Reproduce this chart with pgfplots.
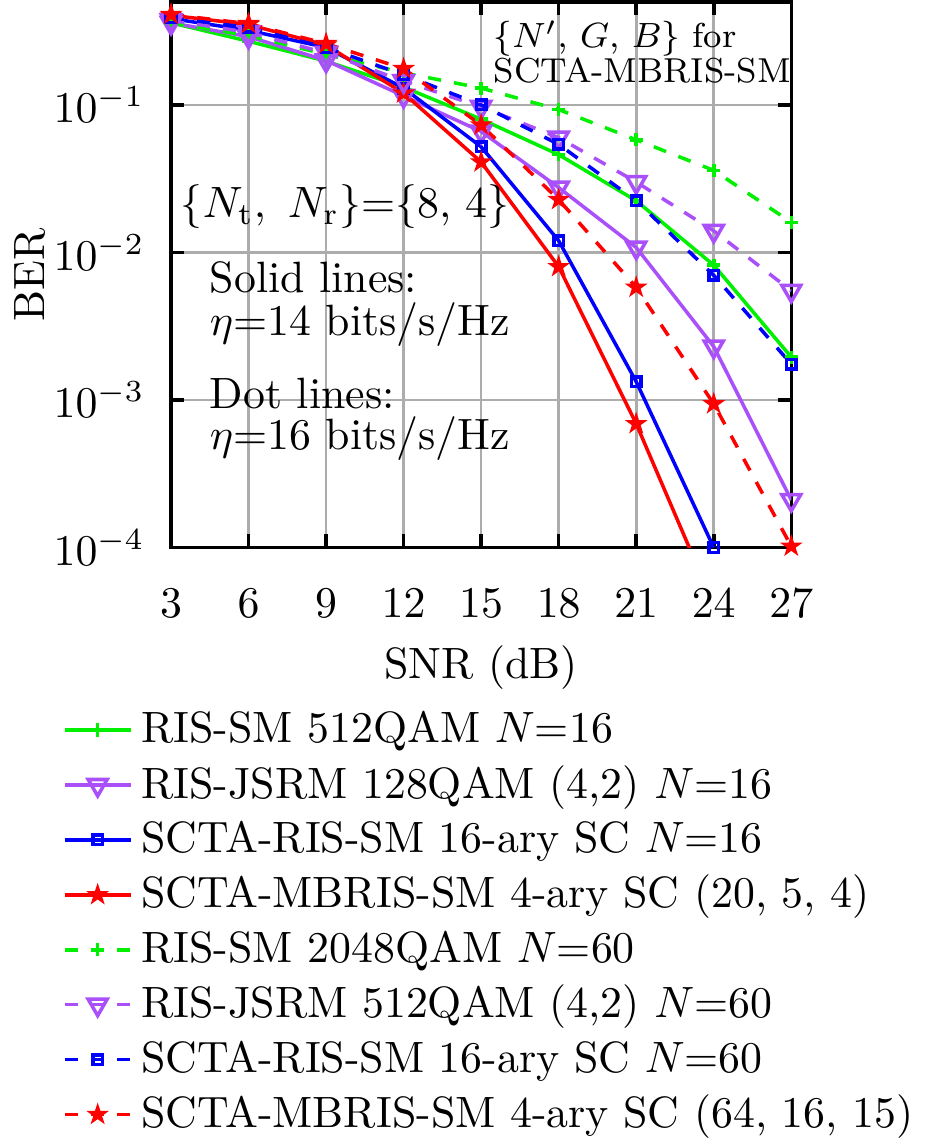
\documentclass[border=0pt]{standalone}
\usepackage{pgfplots}
\pgfplotsset{compat=1.18}
\definecolor{mygreen}{RGB}{0,240,0}
\definecolor{mypurple}{RGB}{170,80,250}
\definecolor{myblue}{RGB}{0,0,255}
\definecolor{myred}{RGB}{255,0,0}
\pgfdeclareplotmark{fstar}{%
  \pgfpathmoveto{\pgfpointpolar{90}{\pgfplotmarksize}}%
  \pgfpathlineto{\pgfpointpolar{126}{0.382\pgfplotmarksize}}%
  \pgfpathlineto{\pgfpointpolar{162}{\pgfplotmarksize}}%
  \pgfpathlineto{\pgfpointpolar{198}{0.382\pgfplotmarksize}}%
  \pgfpathlineto{\pgfpointpolar{234}{\pgfplotmarksize}}%
  \pgfpathlineto{\pgfpointpolar{270}{0.382\pgfplotmarksize}}%
  \pgfpathlineto{\pgfpointpolar{306}{\pgfplotmarksize}}%
  \pgfpathlineto{\pgfpointpolar{342}{0.382\pgfplotmarksize}}%
  \pgfpathlineto{\pgfpointpolar{18}{\pgfplotmarksize}}%
  \pgfpathlineto{\pgfpointpolar{54}{0.382\pgfplotmarksize}}%
  \pgfpathclose
  \pgfusepathqfillstroke}
\begin{document}
\begin{tikzpicture}
\begin{axis}[
  scale only axis,
  width=141.5pt, height=124.5pt,
  ymode=log,
  xmin=3, xmax=27, ymin=1e-4, ymax=0.5,
  xtick={3,6,...,27},
  ytick={1e-1,1e-2,1e-3,1e-4},
  tick align=inside,
  major tick length=3pt,
  minor tick length=1.8pt,
  tick style={black, thick},
  axis line style={black, thick},
  grid=both,
  major grid style={gray!65, semithick},
  minor grid style={gray!35, densely dotted, thin},
  xminorgrids=false,
  xlabel={SNR (dB)},
  ylabel={BER},
  ylabel shift=-5pt,
  xlabel shift=-0.5pt,
  yticklabel style={xshift=-2.5pt},
  xticklabel style={yshift=-6pt},
  every axis plot/.append style={thick},
  legend cell align=left,
  legend image code/.code={\draw[mark repeat=2,mark phase=2] plot coordinates {(0cm,0cm) (0.265cm,0cm) (0.53cm,0cm)};},
  legend style={draw=none, fill=none, inner ysep=0pt, inner xsep=3pt, at={(axis description cs:-0.197,-0.282)}, anchor=north west, row sep=-0.3pt},
]
\addplot[mygreen, mark=+, mark size=1.5pt] coordinates {(3,0.36) (6,0.27) (9,0.198) (12,0.132) (15,0.080) (18,0.046) (21,0.0224) (24,0.0082) (27,0.00195)};
\addlegendentry{RIS-SM 512QAM $N$=16}
\addplot[mypurple, mark=triangle, mark options={rotate=180, solid}, mark size=2.5pt] coordinates {(3,0.36) (6,0.29) (9,0.20) (12,0.115) (15,0.066) (18,0.0275) (21,0.0108) (24,0.0023) (27,0.00021)};
\addlegendentry{RIS-JSRM 128QAM (4,2) $N$=16}
\addplot[myblue, mark=square, mark options={solid}, mark size=1.1pt] coordinates {(3,0.385) (6,0.32) (9,0.245) (12,0.13) (15,0.052) (18,0.012) (21,0.00133) (24,0.0001)};
\addlegendentry{SCTA-RIS-SM 16-ary SC $N$=16}
\addplot[myred, mark=fstar, mark options={solid, fill=myred, line width=0.4pt}, mark size=2.1pt] coordinates {(3,0.405) (6,0.35) (9,0.254) (12,0.12) (15,0.041) (18,0.008) (21,0.00069) (24,0.000041)};
\addlegendentry{SCTA-MBRIS-SM 4-ary SC (20, 5, 4)}
\addplot[mygreen, dashed, mark=+, mark options={solid}, mark size=1.5pt] coordinates {(3,0.36) (6,0.295) (9,0.22) (12,0.165) (15,0.13) (18,0.093) (21,0.058) (24,0.036) (27,0.016)};
\addlegendentry{RIS-SM 2048QAM $N$=60}
\addplot[mypurple, dashed, mark=triangle, mark options={rotate=180, solid}, mark size=2.5pt] coordinates {(3,0.375) (6,0.31) (9,0.225) (12,0.145) (15,0.097) (18,0.06) (21,0.030) (24,0.014) (27,0.0055)};
\addlegendentry{RIS-JSRM 512QAM (4,2) $N$=60}
\addplot[myblue, dashed, mark=square, mark options={solid}, mark size=1.1pt] coordinates {(3,0.39) (6,0.335) (9,0.245) (12,0.16) (15,0.1) (18,0.054) (21,0.0224) (24,0.0070) (27,0.00175)};
\addlegendentry{SCTA-RIS-SM 16-ary SC $N$=60}
\addplot[myred, dashed, mark=fstar, mark options={solid, fill=myred, line width=0.4pt}, mark size=2.1pt] coordinates {(3,0.41) (6,0.355) (9,0.26) (12,0.176) (15,0.073) (18,0.0228) (21,0.0058) (24,0.00094) (27,0.000102)};
\addlegendentry{SCTA-MBRIS-SM 4-ary SC (64, 16, 15)}
\node[anchor=base west, inner sep=0pt, font=\fontsize{7.9}{9.5}\selectfont] at (axis cs:15.45,0.243) {$\{N',\,G,\,B\}$ for};
\node[anchor=base west, inner sep=0pt, font=\fontsize{7.9}{9.5}\selectfont] at (axis cs:15.45,0.141) {SCTA-MBRIS-SM};
\node[anchor=base west, inner sep=0pt] at (axis cs:3.35,0.0172) {$\{N_{\mathrm{t}},~N_{\mathrm{r}}\}$=$\{$8, 4$\}$};
\node[anchor=base west, inner sep=0pt] at (axis cs:4.47,0.00537) {Solid lines:};
\node[anchor=base west, inner sep=0pt] at (axis cs:4.47,0.00275) {$\eta$=14 bits/s/Hz};
\node[anchor=base west, inner sep=0pt] at (axis cs:4.47,0.000869) {Dot lines:};
\node[anchor=base west, inner sep=0pt] at (axis cs:4.47,0.000459) {$\eta$=16 bits/s/Hz};
\end{axis}
\end{tikzpicture}
\end{document}
